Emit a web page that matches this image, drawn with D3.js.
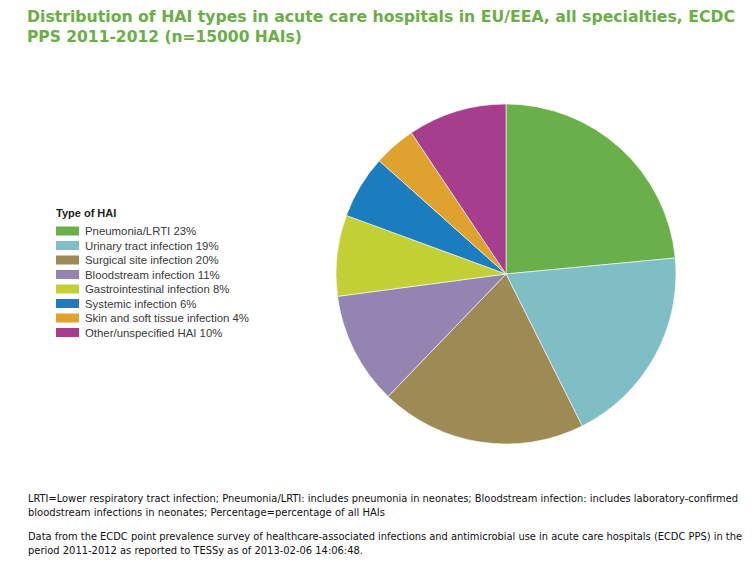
<!DOCTYPE html>
<html><head><meta charset="utf-8">
<script src="https://cdn.jsdelivr.net/npm/d3@7"></script>
<style>body{margin:0;background:#fff}</style>
</head><body>
<svg id="c" width="755" height="568"></svg>
<script>
const categories = ["Pneumonia/LRTI","Urinary tract infection","Surgical site infection","Bloodstream infection","Gastrointestinal infection","Systemic infection","Skin and soft tissue infection","Other/unspecified HAI"];
const labelPercents = [23,19,20,11,8,6,4,10];
const values = [23.5,19.1,19.6,10.7,7.7,6.0,4.0,9.4];
const colors = ["#6ab04a","#7fbec4","#9e8a55","#9484b2","#c2cf35","#1b7dbd","#e0a22e","#a73d8d"];
const titleLines = ["Distribution of HAI types in acute care hospitals in EU/EEA, all specialties, ECDC","PPS 2011-2012 (n=15000 HAIs)"];
const footLines = ["LRTI=Lower respiratory tract infection; Pneumonia/LRTI: includes pneumonia in neonates; Bloodstream infection: includes laboratory-confirmed","bloodstream infections in neonates; Percentage=percentage of all HAIs","Data from the ECDC point prevalence survey of healthcare-associated infections and antimicrobial use in acute care hospitals (ECDC PPS) in the","period 2011-2012 as reported to TESSy as of 2013-02-06 14:06:48."];
const footY = [502,516,540,554];
const footWidths = [710,357,714,335];

const svg = d3.select("#c");
svg.append("g").selectAll("text").data(titleLines).join("text")
  .attr("x",27).attr("y",(d,i)=>22+i*20)
  .attr("font-family","Verdana, 'DejaVu Sans', sans-serif").attr("font-weight","bold").attr("font-size",15.5)
  .attr("fill","#6aae46").text(d=>d)
  .each(function(d,i){ if(i===0) d3.select(this).attr("textLength",708).attr("lengthAdjust","spacingAndGlyphs"); });

const pie = d3.pie().sort(null).value(d=>d);
const arc = d3.arc().innerRadius(0).outerRadius(170);
const g = svg.append("g").attr("transform","translate(506,274)");
g.selectAll("path").data(pie(values)).join("path")
  .attr("d",arc).attr("fill",(d,i)=>colors[i]).attr("stroke","#fff").attr("stroke-width",0.6);

const leg = svg.append("g").attr("transform","translate(56,0)");
leg.append("text").attr("x",0).attr("y",217).attr("font-family","Arial, 'Liberation Sans', sans-serif")
  .attr("font-weight","bold").attr("font-size",11).attr("fill","#222").text("Type of HAI");
const items = leg.selectAll("g.it").data(categories).join("g").attr("class","it")
  .attr("transform",(d,i)=>`translate(0,${231+i*14.5})`);
items.append("rect").attr("x",0).attr("y",-4.5).attr("width",23).attr("height",9).attr("fill",(d,i)=>colors[i]);
items.append("text").attr("x",29).attr("y",4).attr("font-family","Arial, 'Liberation Sans', sans-serif")
  .attr("font-size",11.4).attr("fill","#3a3a3a").text((d,i)=>`${d} ${labelPercents[i]}%`);

svg.append("g").selectAll("text").data(footLines).join("text")
  .attr("x",28).attr("y",(d,i)=>footY[i])
  .attr("font-family","Tahoma, 'DejaVu Sans Condensed', 'Liberation Sans Narrow', sans-serif").attr("font-size",10.5).attr("fill","#111")
  .text(d=>d)
  .attr("textLength",(d,i)=>footWidths[i]).attr("lengthAdjust","spacingAndGlyphs");
</script>
</body></html>
